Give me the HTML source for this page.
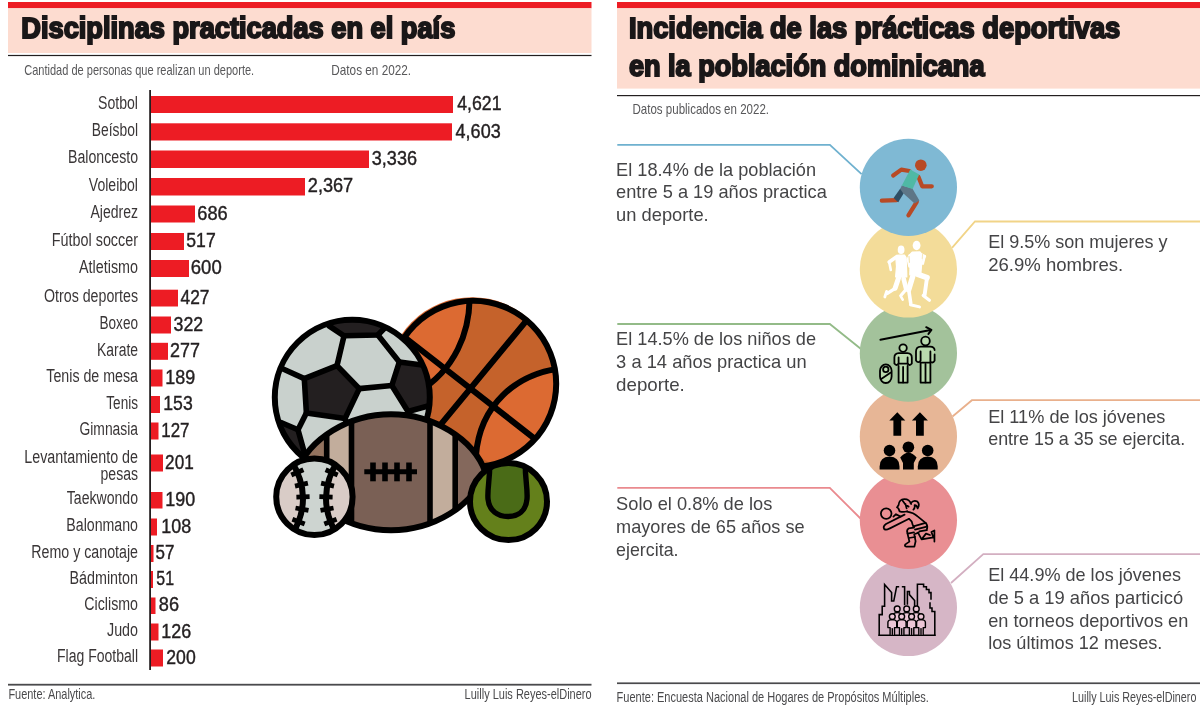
<!DOCTYPE html>
<html lang="es"><head><meta charset="utf-8"><title>Disciplinas practicadas en el país</title>
<style>html,body{margin:0;padding:0;background:#fff}body{width:1200px;height:724px;overflow:hidden}svg{display:block}text{font-family:"Liberation Sans",sans-serif;white-space:pre}</style>
</head><body>
<svg width="1200" height="724" viewBox="0 0 1200 724">
<rect width="1200" height="724" fill="#fff"/>
<g id="left-panel">
<rect x="8" y="2" width="583.5" height="6.3" fill="#ed1c24"/>
<rect x="8" y="8.3" width="583.5" height="44.7" fill="#fddcd0"/>
<rect x="8" y="54.9" width="583.5" height="1.2" fill="#231f20"/>
<text x="21.30" y="37.75" font-size="29.4" font-weight="bold" textLength="434.00" lengthAdjust="spacingAndGlyphs" fill="#1a1718" stroke="#1a1718" stroke-width="2" stroke-linejoin="miter" stroke-miterlimit="2.5">Disciplinas practicadas en el país</text>
<text x="24.20" y="74.60" font-size="14.5" textLength="230.00" lengthAdjust="spacingAndGlyphs" fill="#58585a">Cantidad de personas que realizan un deporte.</text>
<text x="331.30" y="74.60" font-size="14.5" textLength="79.80" lengthAdjust="spacingAndGlyphs" fill="#58585a">Datos en 2022.</text>
<g fill="#ed1c24">
<rect x="150" y="96" width="303" height="17.0"/>
<rect x="150" y="123.3" width="302" height="17.2"/>
<rect x="150" y="150.5" width="219" height="17.5"/>
<rect x="150" y="178" width="155" height="17.5"/>
<rect x="150" y="205.5" width="45" height="17.0"/>
<rect x="150" y="233" width="34" height="17.0"/>
<rect x="150" y="260" width="39" height="17.0"/>
<rect x="150" y="289.7" width="28" height="16.8"/>
<rect x="150" y="316.5" width="21" height="17.0"/>
<rect x="150" y="342.8" width="18" height="17.0"/>
<rect x="150" y="369.5" width="12.5" height="17.0"/>
<rect x="150" y="396" width="10" height="17.0"/>
<rect x="150" y="422.5" width="8.5" height="17.0"/>
<rect x="150" y="454.5" width="13" height="17.0"/>
<rect x="150" y="492" width="12.5" height="16.5"/>
<rect x="150" y="518.5" width="7" height="17.0"/>
<rect x="150" y="545" width="3.5" height="17.0"/>
<rect x="150" y="571" width="3" height="17.0"/>
<rect x="150" y="597.5" width="5.5" height="16.5"/>
<rect x="150" y="623.5" width="8.5" height="17.0"/>
<rect x="150" y="649.5" width="13" height="17.0"/>
</g>
<rect x="149.2" y="90" width="1.8" height="580" fill="#231f20"/>
<g font-family='"Liberation Sans", sans-serif'>
<text x="98.00" y="108.70" font-size="18" textLength="40.00" lengthAdjust="spacingAndGlyphs" fill="#3a3637">Sotbol</text>
<text x="457.30" y="110.10" font-size="19.4" textLength="44.20" lengthAdjust="spacingAndGlyphs" fill="#231f20" stroke="#231f20" stroke-width="0.4">4,621</text>
<text x="91.80" y="136.10" font-size="18" textLength="46.20" lengthAdjust="spacingAndGlyphs" fill="#3a3637">Beísbol</text>
<text x="455.60" y="137.50" font-size="19.4" textLength="45.10" lengthAdjust="spacingAndGlyphs" fill="#231f20" stroke="#231f20" stroke-width="0.4">4,603</text>
<text x="68.00" y="163.45" font-size="18" textLength="70.00" lengthAdjust="spacingAndGlyphs" fill="#3a3637">Baloncesto</text>
<text x="371.80" y="164.85" font-size="19.4" textLength="45.20" lengthAdjust="spacingAndGlyphs" fill="#231f20" stroke="#231f20" stroke-width="0.4">3,336</text>
<text x="88.80" y="190.95" font-size="18" textLength="49.20" lengthAdjust="spacingAndGlyphs" fill="#3a3637">Voleibol</text>
<text x="307.80" y="192.35" font-size="19.4" textLength="45.40" lengthAdjust="spacingAndGlyphs" fill="#231f20" stroke="#231f20" stroke-width="0.4">2,367</text>
<text x="90.50" y="218.20" font-size="18" textLength="47.50" lengthAdjust="spacingAndGlyphs" fill="#3a3637">Ajedrez</text>
<text x="197.30" y="219.60" font-size="19.4" textLength="30.40" lengthAdjust="spacingAndGlyphs" fill="#231f20" stroke="#231f20" stroke-width="0.4">686</text>
<text x="51.80" y="245.70" font-size="18" textLength="86.20" lengthAdjust="spacingAndGlyphs" fill="#3a3637">Fútbol soccer</text>
<text x="186.30" y="247.10" font-size="19.4" textLength="29.40" lengthAdjust="spacingAndGlyphs" fill="#231f20" stroke="#231f20" stroke-width="0.4">517</text>
<text x="79.00" y="272.70" font-size="18" textLength="59.00" lengthAdjust="spacingAndGlyphs" fill="#3a3637">Atletismo</text>
<text x="190.80" y="274.10" font-size="19.4" textLength="30.90" lengthAdjust="spacingAndGlyphs" fill="#231f20" stroke="#231f20" stroke-width="0.4">600</text>
<text x="44.00" y="302.30" font-size="18" textLength="94.00" lengthAdjust="spacingAndGlyphs" fill="#3a3637">Otros deportes</text>
<text x="180.60" y="303.70" font-size="19.4" textLength="28.90" lengthAdjust="spacingAndGlyphs" fill="#231f20" stroke="#231f20" stroke-width="0.4">427</text>
<text x="99.50" y="329.20" font-size="18" textLength="38.50" lengthAdjust="spacingAndGlyphs" fill="#3a3637">Boxeo</text>
<text x="173.60" y="330.60" font-size="19.4" textLength="29.60" lengthAdjust="spacingAndGlyphs" fill="#231f20" stroke="#231f20" stroke-width="0.4">322</text>
<text x="97.00" y="355.50" font-size="18" textLength="41.00" lengthAdjust="spacingAndGlyphs" fill="#3a3637">Karate</text>
<text x="170.10" y="356.90" font-size="19.4" textLength="29.90" lengthAdjust="spacingAndGlyphs" fill="#231f20" stroke="#231f20" stroke-width="0.4">277</text>
<text x="46.30" y="382.20" font-size="18" textLength="91.70" lengthAdjust="spacingAndGlyphs" fill="#3a3637">Tenis de mesa</text>
<text x="165.30" y="383.60" font-size="19.4" textLength="29.90" lengthAdjust="spacingAndGlyphs" fill="#231f20" stroke="#231f20" stroke-width="0.4">189</text>
<text x="106.30" y="408.70" font-size="18" textLength="31.70" lengthAdjust="spacingAndGlyphs" fill="#3a3637">Tenis</text>
<text x="163.30" y="410.10" font-size="19.4" textLength="29.40" lengthAdjust="spacingAndGlyphs" fill="#231f20" stroke="#231f20" stroke-width="0.4">153</text>
<text x="79.50" y="435.20" font-size="18" textLength="58.50" lengthAdjust="spacingAndGlyphs" fill="#3a3637">Gimnasia</text>
<text x="161.30" y="436.60" font-size="19.4" textLength="28.20" lengthAdjust="spacingAndGlyphs" fill="#231f20" stroke="#231f20" stroke-width="0.4">127</text>
<text x="24.30" y="462.50" font-size="18" textLength="113.70" lengthAdjust="spacingAndGlyphs" fill="#3a3637">Levantamiento de</text>
<text x="165.10" y="468.60" font-size="19.4" textLength="28.60" lengthAdjust="spacingAndGlyphs" fill="#231f20" stroke="#231f20" stroke-width="0.4">201</text>
<text x="66.80" y="504.45" font-size="18" textLength="71.20" lengthAdjust="spacingAndGlyphs" fill="#3a3637">Taekwondo</text>
<text x="165.30" y="505.85" font-size="19.4" textLength="29.90" lengthAdjust="spacingAndGlyphs" fill="#231f20" stroke="#231f20" stroke-width="0.4">190</text>
<text x="66.30" y="531.20" font-size="18" textLength="71.70" lengthAdjust="spacingAndGlyphs" fill="#3a3637">Balonmano</text>
<text x="161.30" y="532.60" font-size="19.4" textLength="29.90" lengthAdjust="spacingAndGlyphs" fill="#231f20" stroke="#231f20" stroke-width="0.4">108</text>
<text x="31.30" y="557.70" font-size="18" textLength="106.70" lengthAdjust="spacingAndGlyphs" fill="#3a3637">Remo y canotaje</text>
<text x="155.60" y="559.10" font-size="19.4" textLength="18.90" lengthAdjust="spacingAndGlyphs" fill="#231f20" stroke="#231f20" stroke-width="0.4">57</text>
<text x="69.50" y="583.70" font-size="18" textLength="68.50" lengthAdjust="spacingAndGlyphs" fill="#3a3637">Bádminton</text>
<text x="156.30" y="585.10" font-size="19.4" textLength="17.70" lengthAdjust="spacingAndGlyphs" fill="#231f20" stroke="#231f20" stroke-width="0.4">51</text>
<text x="84.30" y="609.95" font-size="18" textLength="53.70" lengthAdjust="spacingAndGlyphs" fill="#3a3637">Ciclismo</text>
<text x="158.80" y="611.35" font-size="19.4" textLength="20.20" lengthAdjust="spacingAndGlyphs" fill="#231f20" stroke="#231f20" stroke-width="0.4">86</text>
<text x="107.00" y="636.20" font-size="18" textLength="31.00" lengthAdjust="spacingAndGlyphs" fill="#3a3637">Judo</text>
<text x="161.30" y="637.60" font-size="19.4" textLength="29.90" lengthAdjust="spacingAndGlyphs" fill="#231f20" stroke="#231f20" stroke-width="0.4">126</text>
<text x="57.00" y="662.20" font-size="18" textLength="81.00" lengthAdjust="spacingAndGlyphs" fill="#3a3637">Flag Football</text>
<text x="166.30" y="663.60" font-size="19.4" textLength="29.40" lengthAdjust="spacingAndGlyphs" fill="#231f20" stroke="#231f20" stroke-width="0.4">200</text>
<text x="100.50" y="480.00" font-size="18" textLength="37.50" lengthAdjust="spacingAndGlyphs" fill="#3a3637">pesas</text>
</g>
<rect x="8" y="683.8" width="583.5" height="1.8" fill="#4a4a4c"/>
<text x="8.40" y="699.10" font-size="14.6" textLength="87.00" lengthAdjust="spacingAndGlyphs" fill="#4a4a4c">Fuente: Analytica.</text>
<text x="464.60" y="699.10" font-size="14.6" textLength="127.00" lengthAdjust="spacingAndGlyphs" fill="#4a4a4c">Luilly Luis Reyes-elDinero</text>
</g>
<g id="balls" stroke-linejoin="round" stroke-linecap="round">
<defs>
<clipPath id="cpB"><circle cx="473.2" cy="383.8" r="83"/></clipPath>
<clipPath id="cpS"><circle cx="352.3" cy="397.3" r="77.5"/></clipPath>
<clipPath id="cpF"><path d="M296.5 472.3 C309 438.3 349 414.3 391 414.3 C433 414.3 473 438.3 485.5 472.3 C473 506.3 433 530.3 391 530.3 C349 530.3 309 506.3 296.5 472.3 Z"/></clipPath>
<clipPath id="cpBB"><circle cx="314.4" cy="496.8" r="38.2"/></clipPath>
<clipPath id="cpT"><circle cx="508.5" cy="501.6" r="38.5"/></clipPath>
</defs>
<g>
<circle cx="472" cy="382.6" r="85.4" fill="#dc6a32"/>
<g clip-path="url(#cpB)">
<circle cx="473.2" cy="383.8" r="83" fill="#c5622b"/>
<path d="M469.6 296 C470 332 455 370 418 392 L380 400 L380 290 Z" fill="#dc6a32"/>
<path d="M560 368.5 C516 374 480 405 476 455 L520 480 L570 440 Z" fill="#dc6a32"/>
<g fill="none" stroke="#000" stroke-width="6">
<path d="M469.6 296 C470 332 455 370 418 392"/>
<path d="M560 368.5 C516 374 480 405 476 455"/>
<path d="M525 322.4 L440 425.4"/>
<path d="M405 337.5 L540 442.8"/>
</g></g>
<circle cx="473.2" cy="383.8" r="83" fill="none" stroke="#000" stroke-width="6"/>
</g>
<g>
<circle cx="352.3" cy="397.3" r="77.5" fill="#c9d1cd"/>
<g clip-path="url(#cpS)">
<g fill="#231f20" stroke="#000" stroke-width="5.6">
<path d="M329.0 325.9 L344.0 335.8 L377.9 335.0 L384.2 328.5 L390 310 L320 310 Z"/>
<path d="M304.3 378.6 L337.0 365.6 L359.3 388.6 L345.0 418.6 L306.4 413.0 Z"/>
<path d="M399.3 362.0 L430.0 366.0 L440 380 L440 404 L428.0 406.0 L408.0 411.5 L391.8 385.5 Z"/>
<path d="M281.0 422.5 L298.0 429.8 L305.0 455.0 L290 470 L265 440 Z"/>
</g>
<g fill="none" stroke="#000" stroke-width="5.6">
<path d="M344.0 335.8 L337.0 365.6"/>
<path d="M377.9 335.0 L399.3 362.0"/>
<path d="M304.3 378.6 L282.0 368.5"/>
<path d="M359.3 388.6 L391.8 385.5"/>
<path d="M306.4 413.0 L298.0 429.8"/>
<path d="M345.0 418.6 L352.0 436.0"/>
<path d="M408.0 411.5 L412.0 428.0"/>
</g></g>
<circle cx="352.3" cy="397.3" r="77.5" fill="none" stroke="#000" stroke-width="6"/>
</g>
<g>
<path d="M296.5 472.3 C309 438.3 349 414.3 391 414.3 C433 414.3 473 438.3 485.5 472.3 C473 506.3 433 530.3 391 530.3 C349 530.3 309 506.3 296.5 472.3 Z" fill="#7a6055"/>
<g clip-path="url(#cpF)">
<rect x="290" y="400" width="37" height="140" fill="#93735f"/>
<rect x="455" y="400" width="40" height="140" fill="#84685c"/>
<rect x="326.7" y="400" width="24.8" height="140" fill="#c2ad9c"/>
<rect x="430" y="400" width="25" height="140" fill="#c2ad9c"/>
<g fill="none" stroke="#000" stroke-width="5.6" stroke-linecap="butt">
<path d="M326.7 400 V545"/>
<path d="M351.5 400 V545"/>
<path d="M430 400 V545"/>
<path d="M455.2 400 V545"/>
</g></g>
<path d="M296.5 472.3 C309 438.3 349 414.3 391 414.3 C433 414.3 473 438.3 485.5 472.3 C473 506.3 433 530.3 391 530.3 C349 530.3 309 506.3 296.5 472.3 Z" fill="none" stroke="#000" stroke-width="6"/>
<g stroke="#000" stroke-linecap="butt" fill="none">
<path d="M364.3 471.8 H417" stroke-width="5"/>
<path d="M373 462.5 V481.3" stroke-width="5.6"/>
<path d="M385 462.5 V481.3" stroke-width="5.6"/>
<path d="M397 462.5 V481.3" stroke-width="5.6"/>
<path d="M409 462.5 V481.3" stroke-width="5.6"/>
</g></g>
<g>
<circle cx="314.4" cy="496.8" r="38.2" fill="#d9ccc7"/>
<g clip-path="url(#cpBB)">
<path d="M288 456 Q317 496.8 290 538 L339 538 Q312 496.8 341 456 Z" fill="#cdd4d0"/>
<g fill="none" stroke="#000">
<path d="M288 456 Q317 496.8 290 538" stroke-width="5.9"/>
<path d="M341 456 Q312 496.8 339 538" stroke-width="5.9"/>
<path d="M303.4 469.7 L291.3 475.0" stroke-width="4.8" stroke-linecap="butt"/>
<path d="M307.9 483.1 L295.0 486.1" stroke-width="4.8" stroke-linecap="butt"/>
<path d="M309.6 496.7 L296.4 497.1" stroke-width="4.8" stroke-linecap="butt"/>
<path d="M308.5 510.4 L295.5 508.0" stroke-width="4.8" stroke-linecap="butt"/>
<path d="M304.7 523.9 L292.4 519.2" stroke-width="4.8" stroke-linecap="butt"/>
<path d="M337.7 475.0 L325.6 469.7" stroke-width="4.8" stroke-linecap="butt"/>
<path d="M334.0 486.1 L321.1 483.1" stroke-width="4.8" stroke-linecap="butt"/>
<path d="M332.6 497.1 L319.4 496.7" stroke-width="4.8" stroke-linecap="butt"/>
<path d="M333.5 508.0 L320.5 510.4" stroke-width="4.8" stroke-linecap="butt"/>
<path d="M336.6 519.2 L324.3 523.9" stroke-width="4.8" stroke-linecap="butt"/>
</g></g>
<circle cx="314.4" cy="496.8" r="38.2" fill="none" stroke="#000" stroke-width="6"/>
</g>
<g>
<circle cx="508.5" cy="501.6" r="38.5" fill="#64801b"/>
<g clip-path="url(#cpT)">
<path d="M489.5 455 C491 475 487 488 488 499 C489 511 498 516.5 508 516.5 C518 516.5 526 511 527 499 C528 488 524 475 525.5 455 Z" fill="#4a6b17"/>
<path d="M489.5 455 C491 475 487 488 488 499 C489 511 498 516.5 508 516.5 C518 516.5 526 511 527 499 C528 488 524 475 525.5 455" fill="none" stroke="#000" stroke-width="5.4"/>
</g>
<circle cx="508.5" cy="501.6" r="38.5" fill="none" stroke="#000" stroke-width="6"/>
</g>
</g>
<g id="right-panel">
<rect x="617" y="2" width="583" height="6.3" fill="#ed1c24"/>
<rect x="617" y="8.3" width="583" height="80.3" fill="#fddcd0"/>
<rect x="617" y="95" width="583" height="1.2" fill="#231f20"/>
<text x="628.90" y="37.70" font-size="29.4" font-weight="bold" textLength="491.40" lengthAdjust="spacingAndGlyphs" fill="#1a1718" stroke="#1a1718" stroke-width="2" stroke-linejoin="miter" stroke-miterlimit="2.5">Incidencia de las prácticas deportivas</text>
<text x="628.90" y="76.00" font-size="29.4" font-weight="bold" textLength="355.60" lengthAdjust="spacingAndGlyphs" fill="#1a1718" stroke="#1a1718" stroke-width="2" stroke-linejoin="miter" stroke-miterlimit="2.5">en la población dominicana</text>
<text x="632.50" y="113.50" font-size="14.5" textLength="136.50" lengthAdjust="spacingAndGlyphs" fill="#58585a">Datos publicados en 2022.</text>
<path d="M617.3 144.8 H829.9 L861.6 174.2" fill="none" stroke="#6fb1cf" stroke-width="1.8"/>
<path d="M1200 221.5 H975 L952 247.8" fill="none" stroke="#f1d488" stroke-width="1.8"/>
<path d="M617.3 324 H829.8 L861 349" fill="none" stroke="#93bb88" stroke-width="1.8"/>
<path d="M1200 400.2 H971.9 L952.5 416.5" fill="none" stroke="#e9b08c" stroke-width="1.8"/>
<path d="M617.3 487.9 H829.8 L861 519" fill="none" stroke="#ea8a8f" stroke-width="1.8"/>
<path d="M1200 554.2 H983.3 L951 583" fill="none" stroke="#d3afc1" stroke-width="1.8"/>
<circle cx="908.4" cy="607.5" r="48.6" fill="#d6b6c6"/>
<circle cx="908.4" cy="520.3" r="48.6" fill="#e98f93"/>
<circle cx="908.4" cy="436.4" r="48.6" fill="#e7b696"/>
<circle cx="908.4" cy="353.2" r="48.6" fill="#a3c29b"/>
<circle cx="908.4" cy="269.0" r="48.6" fill="#f3dc99"/>
<circle cx="908.4" cy="187.3" r="48.6" fill="#7fb9d4"/>
<text x="616.10" y="175.60" font-size="18.1" textLength="199.90" lengthAdjust="spacingAndGlyphs" fill="#444446">El 18.4% de la población</text>
<text x="616.10" y="198.10" font-size="18.1" textLength="210.70" lengthAdjust="spacingAndGlyphs" fill="#444446">entre 5 a 19 años practica</text>
<text x="616.10" y="221.00" font-size="18.1" textLength="92.60" lengthAdjust="spacingAndGlyphs" fill="#444446">un deporte.</text>
<text x="988.20" y="248.10" font-size="18.1" textLength="179.30" lengthAdjust="spacingAndGlyphs" fill="#444446">El 9.5% son mujeres y</text>
<text x="988.20" y="270.80" font-size="18.1" textLength="135.10" lengthAdjust="spacingAndGlyphs" fill="#444446">26.9% hombres.</text>
<text x="616.10" y="345.40" font-size="18.1" textLength="199.90" lengthAdjust="spacingAndGlyphs" fill="#444446">El 14.5% de los niños de</text>
<text x="616.10" y="367.90" font-size="18.1" textLength="190.50" lengthAdjust="spacingAndGlyphs" fill="#444446">3 a 14 años practica un</text>
<text x="616.10" y="390.80" font-size="18.1" textLength="68.70" lengthAdjust="spacingAndGlyphs" fill="#444446">deporte.</text>
<text x="988.20" y="422.50" font-size="18.1" textLength="177.20" lengthAdjust="spacingAndGlyphs" fill="#444446">El 11% de los jóvenes</text>
<text x="988.20" y="445.00" font-size="18.1" textLength="197.00" lengthAdjust="spacingAndGlyphs" fill="#444446">entre 15 a 35 se ejercita.</text>
<text x="616.10" y="510.40" font-size="18.1" textLength="156.20" lengthAdjust="spacingAndGlyphs" fill="#444446">Solo el 0.8% de los</text>
<text x="616.10" y="533.30" font-size="18.1" textLength="188.50" lengthAdjust="spacingAndGlyphs" fill="#444446">mayores de 65 años se</text>
<text x="616.10" y="556.30" font-size="18.1" textLength="62.40" lengthAdjust="spacingAndGlyphs" fill="#444446">ejercita.</text>
<text x="988.20" y="581.00" font-size="18.1" textLength="192.80" lengthAdjust="spacingAndGlyphs" fill="#444446">El 44.9% de los jóvenes</text>
<text x="988.20" y="603.50" font-size="18.1" textLength="194.90" lengthAdjust="spacingAndGlyphs" fill="#444446">de 5 a 19 años particicó</text>
<text x="988.20" y="626.50" font-size="18.1" textLength="200.10" lengthAdjust="spacingAndGlyphs" fill="#444446">en torneos deportivos en</text>
<text x="988.20" y="649.40" font-size="18.1" textLength="174.10" lengthAdjust="spacingAndGlyphs" fill="#444446">los últimos 12 meses.</text>
<rect x="617" y="682.4" width="583" height="1.7" fill="#4a4a4c"/>
<text x="616.60" y="701.80" font-size="14.7" textLength="312.30" lengthAdjust="spacingAndGlyphs" fill="#4a4a4c">Fuente: Encuesta Nacional de Hogares de Propósitos Múltiples.</text>
<text x="1072.10" y="701.80" font-size="14.7" textLength="124.30" lengthAdjust="spacingAndGlyphs" fill="#4a4a4c">Luilly Luis Reyes-elDinero</text>
</g>
<g id="icons" stroke-linecap="round" stroke-linejoin="round">
<g>
<g fill="none" stroke="#b84a25" stroke-width="4.2">
<path d="M909.4 171 L901.3 169.6 L893.2 175.5"/>
<path d="M918.4 176.8 L922.2 186.3 L931.8 186.3"/>
<path d="M896.6 200.2 L881.8 200.7"/>
<path d="M916.8 201.8 L908.4 215.4"/>
</g>
<path d="M900.3 188.6 L904.2 192.6 L898.2 202.2 L893.6 198 Z" fill="#2f4e64"/>
<path d="M901.8 185.4 L912.4 188.6 L919.4 200.4 L914.6 203.4 L903.2 193.2 L900.2 189 Z" fill="#5e7687"/>
<path d="M910.3 169.4 L919.2 174.4 L912.6 189 L901.8 185.4 Z" fill="#4fb9a5"/>
<circle cx="920.8" cy="165.2" r="5.8" fill="#b84a25"/>
</g>
<g fill="#fff" stroke="#fff">
<ellipse cx="901.1" cy="249.7" rx="3.4" ry="4.3" stroke="none"/>
<path d="M898.4 255.2 L904.5 255.0 L906.1 257.6 L906.9 277.0 L895.6 277.0 L896.5 266.5 L895.8 257.1 Z" fill="#fff" stroke-width="1.2"/>
<path d="M897.0 256.5 L889.2 262.0" fill="none" stroke-width="3.6"/>
<path d="M889.2 262.0 L890.8 270.0" fill="none" stroke-width="2.6"/>
<path d="M898.7 277.5 L895.1 288.3" fill="none" stroke-width="5.0"/>
<path d="M895.1 288.3 L887.4 293.4" fill="none" stroke-width="3.3"/>
<path d="M886.6 291.4 L884.8 297.0" fill="none" stroke-width="2.8"/>
<path d="M903.6 278.6 L906.2 289.2" fill="none" stroke-width="4.6"/>
<path d="M906.2 289.2 L901.1 295.2" fill="none" stroke-width="3.2"/>
<path d="M900.5 295.9 L902.7 299.6" fill="none" stroke-width="2.6"/>
<ellipse cx="916.6" cy="245.5" rx="3.9" ry="4.7" stroke="none"/>
<path d="M912.2 252.1 L919.9 251.9 L922.4 254.9 L920.8 274.2 L909.8 274.8 L910.0 266.5 L909.1 255.4 Z" fill="#fff" stroke-width="1.2"/>
<path d="M922.1 255.0 L924.6 256.3" fill="none" stroke-width="3.0"/>
<path d="M924.6 256.3 L922.8 263.6" fill="none" stroke-width="2.6"/>
<path d="M909.8 255.6 L908.0 259.6" fill="none" stroke-width="3.0"/>
<path d="M908.0 259.6 L909.5 266.5" fill="none" stroke-width="2.6"/>
<path d="M917.9 274.4 L927.0 277.7" fill="none" stroke-width="5.6"/>
<path d="M927.0 277.7 L924.6 295.0" fill="none" stroke-width="3.9"/>
<path d="M923.2 295.4 L929.4 300.3" fill="none" stroke-width="3.2"/>
<path d="M913.1 275.3 L908.7 289.7" fill="none" stroke-width="5.4"/>
<path d="M908.7 289.7 L910.7 302.9" fill="none" stroke-width="3.6"/>
<path d="M910.4 304.7 L919.5 306.9" fill="none" stroke-width="3.0"/>
</g>
<path d="M909 256.4 L909.4 262.4 M908.6 270.6 L908.2 277.6" fill="none" stroke="#f3dc99" stroke-width="0.9"/>
<path d="M922.6 254.4 L922.2 258.4" fill="none" stroke="#f3dc99" stroke-width="0.7"/>
<g fill="#b9d9ad" stroke="none">
<rect x="880" y="364.4" width="11.6" height="18.6" rx="5.8" ry="6.4"/>
<circle cx="903.1" cy="348.1" r="3.7"/><circle cx="925.5" cy="341" r="4.3"/>
<rect x="894.4" y="353.2" width="17.4" height="11.6" rx="3"/><rect x="898.6" y="363" width="9" height="19.6"/>
<rect x="916" y="346.6" width="18.6" height="15.6" rx="3"/><rect x="920.6" y="360" width="9.8" height="22.6"/>
</g>
<g fill="none" stroke="#000" stroke-width="1.8">
<path d="M880.4 339.8 L930.6 330" stroke-width="2"/>
<path d="M926.2 327.2 L931.4 329.8 L928.4 334" stroke-width="2"/>
<rect x="880" y="364.4" width="11.6" height="18.6" rx="5.8" ry="6.4"/>
<circle cx="885.8" cy="369.4" r="2.7"/>
<path d="M881.2 379 L890.8 372.6"/>
<circle cx="903.1" cy="348.1" r="3.7"/>
<path d="M898.6 366 L898.6 382.6 L907.6 382.6 L907.6 366"/>
<path d="M903.1 367 V382.4"/>
<path d="M898.6 357.4 V363.6 Q896.4 366.4 894.4 363.6 V357.6 Q894.4 353.4 898.8 353.2 H907.4 Q911.8 353.4 911.8 357.6 V363.6 Q909.8 366.4 907.6 363.6 V357.4"/>
<path d="M898.6 363.6 H907.6"/>
<circle cx="925.5" cy="341" r="4.3"/>
<path d="M920.6 362.6 V382.6 H930.4 V362.6"/>
<path d="M925.5 364 V382.4"/>
<path d="M920.6 351.4 V360.6 Q918.2 363.8 916 360.6 V351.6 Q916 346.8 920.8 346.6 H930.2 Q934.4 346.8 934.6 350"/>
<path d="M930.4 351.4 V362.6 H920.6"/>
<path d="M934.6 354.4 V360.6 Q933.4 363.2 931.2 362.2"/>
</g>
<g fill="#000" stroke="none">
<path d="M897.3 412.2 L905.3 420.4 H901.1999999999999 V435.8 H893.4 V420.4 H889.3 Z"/>
<path d="M919.9 412.2 L927.9 420.4 H923.8 V435.8 H916.0 V420.4 H911.9 Z"/>
<circle cx="889.5" cy="450.5" r="5.8"/>
<circle cx="927.7" cy="450.5" r="5.8"/>
<circle cx="908.4" cy="447.2" r="5.8"/>
<path d="M879.6 469.4 V466.4 Q879.8 457 889.5 456.6 Q899.3 457 899.5 466.4 V469.4 Z"/>
<path d="M917.8 469.4 V466.4 Q918 457 927.7 456.6 Q937.5 457 937.7 466.4 V469.4 Z"/>
<path d="M903 469.4 V463 L900.2 457.6 Q904 452.8 908.4 452.8 Q912.8 452.8 916.6 457.6 L913.8 463 V469.4 Z"/>
</g>
<g fill="none" stroke="#000" stroke-width="1.75">
<circle cx="886.2" cy="513.6" r="5.3"/>
<path d="M907.2 511.2 Q903.4 512.6 899.6 511.4 L898.4 508.4 L897 507.4 L898.6 505 Q899 499.4 904.4 499 Q909.6 499 911.2 504"/>
<path d="M902.6 500.6 Q904.6 504.6 908.6 506.6 M905.4 503.8 L906.6 508.4"/>
<path d="M910.6 503.2 Q913.6 499.6 917.4 501.6 Q920.2 504.4 917.6 508.4 Q917 505.4 914.6 505.2 Q915.2 508 913.4 509.6"/>
<path d="M904.6 514.6 L886 524 Q882.6 526.4 884.2 529 Q886 530.6 889.4 528.6 L909 518.8"/>
<path d="M900.6 516.6 L896 514.2 L893.4 516.6"/>
<path d="M907 511.6 Q913.6 512.6 917.6 516.4 L926.2 523.4 Q928.2 526.4 926.6 530"/>
<path d="M909 518.8 Q911.8 520.6 912.6 524.6 L914 527.4"/>
<path d="M913.4 526.4 L925.6 522.8 M915 529.6 L926.8 526.6"/>
<path d="M913.8 527.6 L908.6 528.4 Q906.4 529.6 907.4 533 L909.4 541.6 L905.4 544.4 Q904 546.2 906.4 546.6 H914.4 L915.6 541.2 L914.2 534.2 L918.6 532.6"/>
<path d="M907.6 533.6 L914 532.4 M908.8 538 L915 537"/>
<path d="M918 532.6 L921.6 539.4 L933.4 537.4 L931.4 532 L934.4 530.4 V541.6 M926.8 530.2 L919.4 531.4 M921.6 539.4 L926 533.6 L930 535"/>
</g>
<g fill="none" stroke="#000" stroke-width="1.55" stroke-linejoin="miter" stroke-linecap="square">
<path d="M879.2 635.2 V614.6 H882.2 V606.2 H884.6 V584.6 L891.6 592.6 V601 H893.8 L896.6 586.8 H898.4"/>
<path d="M902.6 586.8 H904.6 V604.4"/>
<path d="M907.4 604 V591.4 H909.4 V594.6 L914.6 600.6 V606"/>
<path d="M917.4 606 V584.2 H923.6 V586.8 H926.4 V589.4 H929 V592.6 H931 V599 M930 603 V608 H932 V611.4 H934.8 V635.2"/>
<path d="M879.2 635.2 H934.8"/>
</g>
<g fill="#ecc6d6" stroke="#000" stroke-width="1.4">
<path d="M892.6 622 V616.4 Q892.6 612.6 897.2 612.6 Q901.8000000000001 612.6 901.8000000000001 616.4 V622 Z"/>
<circle cx="897.2" cy="608.9" r="2.9"/>
<path d="M902.1 622 V616.4 Q902.1 612.6 906.7 612.6 Q911.3000000000001 612.6 911.3000000000001 616.4 V622 Z"/>
<circle cx="906.7" cy="608.9" r="2.9"/>
<path d="M911.6999999999999 622 V616.4 Q911.6999999999999 612.6 916.3 612.6 Q920.9 612.6 920.9 616.4 V622 Z"/>
<circle cx="916.3" cy="608.9" r="2.9"/>
<path d="M890.0999999999999 634.6 V627.6 H887.9 V622.6 Q887.9 619.6 892.3 619.6 Q896.6999999999999 619.6 896.6999999999999 622.6 V627.6 H894.5 V634.6"/>
<path d="M892.3 628.6 V634.6" fill="none"/>
<circle cx="892.3" cy="616.6" r="2.9"/>
<path d="M899.5 634.6 V627.6 H897.3000000000001 V622.6 Q897.3000000000001 619.6 901.7 619.6 Q906.1 619.6 906.1 622.6 V627.6 H903.9000000000001 V634.6"/>
<path d="M901.7 628.6 V634.6" fill="none"/>
<circle cx="901.7" cy="616.6" r="2.9"/>
<path d="M909.4 634.6 V627.6 H907.2 V622.6 Q907.2 619.6 911.6 619.6 Q916.0 619.6 916.0 622.6 V627.6 H913.8000000000001 V634.6"/>
<path d="M911.6 628.6 V634.6" fill="none"/>
<circle cx="911.6" cy="616.6" r="2.9"/>
<path d="M918.8 634.6 V627.6 H916.6 V622.6 Q916.6 619.6 921 619.6 Q925.4 619.6 925.4 622.6 V627.6 H923.2 V634.6"/>
<path d="M921 628.6 V634.6" fill="none"/>
<circle cx="921" cy="616.6" r="2.9"/>
</g>
</g>
</svg>
</body></html>
